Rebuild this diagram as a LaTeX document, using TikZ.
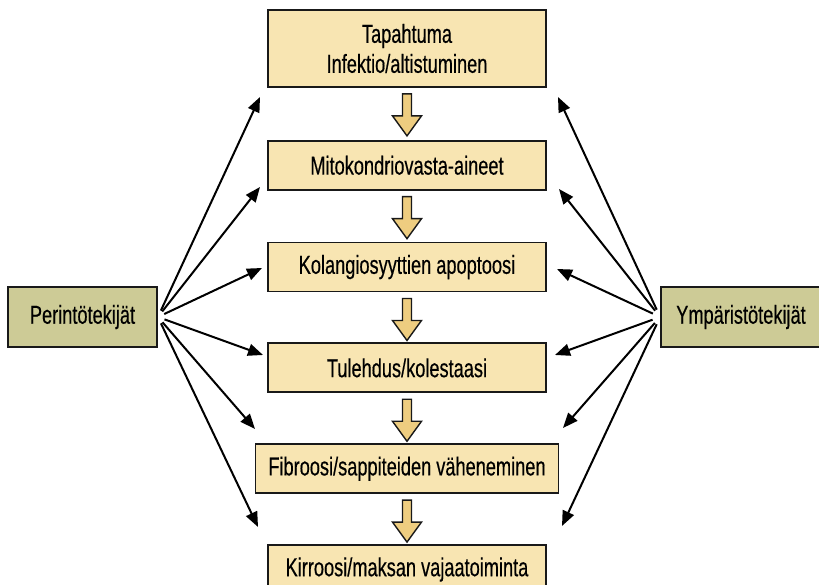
\documentclass[tikz,border=0pt]{standalone}
\usepackage{fontspec}
\setmainfont{Liberation Sans}[FakeStretch=0.7, FakeBold=0.4]
\usetikzlibrary{arrows.meta,positioning,calc}
\definecolor{boxfill}{RGB}{248,229,178}
\definecolor{blkfill}{RGB}{238,205,128}
\definecolor{sidefill}{RGB}{205,203,150}
\tikzset{
  stage/.style  ={draw=black!90, line width=1.8pt, fill=boxfill, align=center,
                  minimum width=278pt, minimum height=49pt, inner sep=2pt,
                  font=\fontsize{26}{30}\selectfont},
  factor/.style ={stage, fill=sidefill, minimum height=60pt},
  blk/.style    ={draw=black!90, line width=1.4pt, fill=blkfill, line join=miter},
  ar/.style     ={-{Triangle[length=15pt,width=12pt]}, line width=2pt, draw=black},
  downarr/.pic  ={\path[blk] (-4.5pt,0pt) -- (4.5pt,0pt) -- (4.5pt,-22pt) -- (14.5pt,-22pt)
                  -- (0pt,-42pt) -- (-14.5pt,-22pt) -- (-4.5pt,-22pt) -- cycle;},
}

\begin{document}
\begin{tikzpicture}[x=1pt, y=1pt]
\useasboundingbox (0,0) rectangle (819,585);

% ---- the chain of events ----
\node[stage, minimum height=77pt] (event) at (407,536.5) {Tapahtuma\\Infektio/altistuminen};
\node[stage, below=52pt of event] (mito) {Mitokondriovasta-aineet};
\node[stage, below=51pt of mito] (apop) {Kolangiosyyttien apoptoosi};
\node[stage, below=50pt of apop] (infl) {Tulehdus/kolestaasi};
\node[stage, minimum width=303pt, below=50pt of infl] (fibro) {Fibroosi/sappiteiden väheneminen};
\node[stage, below=50pt of fibro] (cirr) {Kirroosi/maksan vajaatoiminta};

\foreach \n in {event,mito,apop,infl,fibro}
  \pic at ($(\n.south)+(0,-6)$) {downarr};

% ---- the two factors ----
\node[factor, minimum width=149pt] (genes) at (82.5,268) {Perintötekijät};
\node[factor, minimum width=160pt] (envir) at (741,268) {Ympäristötekijät};

% free ends of the fan arrows
\coordinate (gl1) at (260,488);
\coordinate (gl2) at (260,398);
\coordinate (gl3) at (262,317);
\coordinate (gl4) at (263,230);
\coordinate (gl5) at (255,156);
\coordinate (gl6) at (258,58);
\coordinate (er1) at (558,488);
\coordinate (er2) at (559,396);
\coordinate (er3) at (557,316);
\coordinate (er4) at (555,230);
\coordinate (er5) at (563,157);
\coordinate (er6) at (562,59);

\foreach \i in {1,...,6}{
  \draw[ar, shorten <=7pt] (genes.east) -- (gl\i);
  \draw[ar, shorten <=8pt] (envir.west) -- (er\i);
}

\end{tikzpicture}
\end{document}
